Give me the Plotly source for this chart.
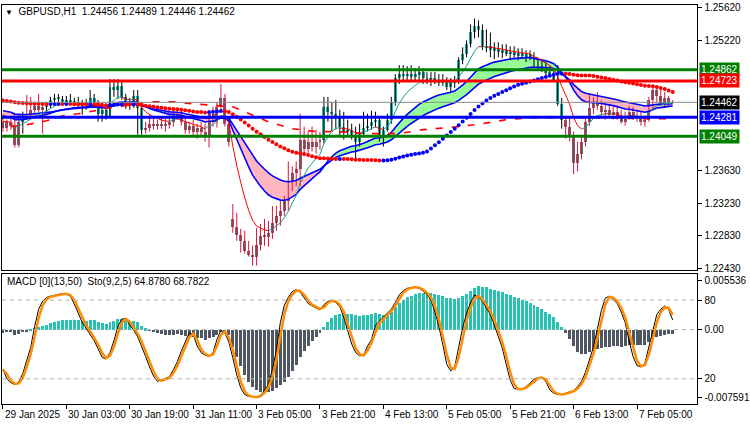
import plotly.graph_objects as go

# ---------------- data (GBPUSD H1) ----------------
tick_bars = [0, 16, 32, 48, 64, 80, 96, 112, 128, 144, 160]
tick_labels = ["29 Jan 2025", "30 Jan 03:00", "30 Jan 19:00", "31 Jan 11:00", "3 Feb 05:00",
               "3 Feb 21:00", "4 Feb 13:00", "5 Feb 05:00", "5 Feb 21:00", "6 Feb 13:00", "7 Feb 05:00"]

bar_open = [
 1.24225, 1.24153, 1.24225, 1.24177, 1.23946, 1.24225, 1.24298, 1.24322, 1.24371, 1.24419,
 1.24371, 1.24407, 1.24444, 1.24492, 1.24517, 1.24504, 1.24468, 1.24492, 1.24468, 1.24456,
 1.24432, 1.24419, 1.24468, 1.24517, 1.24468, 1.24322, 1.24371, 1.24298, 1.24650, 1.24614,
 1.24662, 1.24529, 1.24419, 1.24468, 1.24541, 1.24395, 1.24128, 1.24153, 1.24201, 1.24177,
 1.24201, 1.24177, 1.24189, 1.24225, 1.24322, 1.24286, 1.24225, 1.24128, 1.24177, 1.24104,
 1.24153, 1.24104, 1.24043, 1.24322, 1.24225, 1.24407, 1.24517, 1.24201, 1.23037, 1.22940,
 1.22843, 1.22770, 1.22649, 1.22600, 1.22576, 1.22721, 1.22831, 1.22818, 1.22867, 1.22988,
 1.23073, 1.23134, 1.23255, 1.23401, 1.23595, 1.23643, 1.24007, 1.23886, 1.23983, 1.23922,
 1.23983, 1.24007, 1.24407, 1.24347, 1.24322, 1.24286, 1.24165, 1.24104, 1.24128, 1.24043,
 1.23983, 1.24080, 1.24153, 1.24177, 1.24225, 1.24250, 1.24043, 1.24128, 1.24250, 1.24468,
 1.24759, 1.24808, 1.24783, 1.24808, 1.24771, 1.24808, 1.24832, 1.24759, 1.24735, 1.24759,
 1.24711, 1.24735, 1.24711, 1.24650, 1.24711, 1.24735, 1.24977, 1.25050, 1.25172, 1.25317,
 1.25390, 1.25341, 1.25135, 1.25147, 1.25099, 1.25123, 1.25075, 1.25099, 1.25050, 1.25075,
 1.25038, 1.25062, 1.25026, 1.25050, 1.25014, 1.24905, 1.24953, 1.24856, 1.24832, 1.24808,
 1.24735, 1.24444, 1.24250, 1.24165, 1.24043, 1.23716, 1.23837, 1.23983, 1.24225, 1.24395,
 1.24468, 1.24419, 1.24347, 1.24371, 1.24310, 1.24347, 1.24286, 1.24225, 1.24262, 1.24347,
 1.24274, 1.24298, 1.24225, 1.24250, 1.24492, 1.24614, 1.24541, 1.24444, 1.24517, 1.24456]

bar_high = [
 1.24322, 1.24250, 1.24274, 1.24298, 1.24322, 1.24347, 1.24553, 1.24529, 1.24468, 1.24565,
 1.24444, 1.24468, 1.24529, 1.24565, 1.24565, 1.24541, 1.24541, 1.24565, 1.24517, 1.24529,
 1.24492, 1.24504, 1.24614, 1.24565, 1.24492, 1.24407, 1.24419, 1.24747, 1.24747, 1.24747,
 1.24711, 1.24565, 1.24517, 1.24614, 1.24614, 1.24419, 1.24225, 1.24310, 1.24298, 1.24250,
 1.24274, 1.24262, 1.24322, 1.24347, 1.24395, 1.24371, 1.24274, 1.24225, 1.24250, 1.24201,
 1.24225, 1.24201, 1.24371, 1.24407, 1.24468, 1.24686, 1.24565, 1.24250, 1.23219, 1.23110,
 1.22915, 1.22891, 1.22770, 1.22709, 1.22928, 1.22976, 1.23037, 1.23012, 1.23195, 1.23195,
 1.23255, 1.23316, 1.23740, 1.23680, 1.23740, 1.24322, 1.24165, 1.24104, 1.24165, 1.24128,
 1.24104, 1.24529, 1.24529, 1.24468, 1.24492, 1.24371, 1.24347, 1.24250, 1.24201, 1.24165,
 1.24201, 1.24347, 1.24322, 1.24359, 1.24347, 1.24286, 1.24165, 1.24322, 1.24529, 1.24808,
 1.24917, 1.24917, 1.24905, 1.24917, 1.24880, 1.24905, 1.24880, 1.24832, 1.24832, 1.24832,
 1.24808, 1.24808, 1.24771, 1.24759, 1.24783, 1.25014, 1.25135, 1.25220, 1.25414, 1.25487,
 1.25463, 1.25414, 1.25353, 1.25317, 1.25196, 1.25196, 1.25172, 1.25172, 1.25147, 1.25147,
 1.25123, 1.25123, 1.25099, 1.25099, 1.25075, 1.25002, 1.24977, 1.24953, 1.24905, 1.24880,
 1.24917, 1.24517, 1.24298, 1.24286, 1.24104, 1.23983, 1.24043, 1.24286, 1.24553, 1.24529,
 1.24589, 1.24492, 1.24468, 1.24444, 1.24419, 1.24419, 1.24371, 1.24347, 1.24419, 1.24407,
 1.24371, 1.24347, 1.24298, 1.24529, 1.24674, 1.24662, 1.24626, 1.24589, 1.24541, 1.24489]

bar_low = [
 1.24104, 1.24104, 1.24128, 1.23910, 1.23910, 1.24080, 1.24250, 1.24250, 1.24322, 1.24347,
 1.24080, 1.24347, 1.24395, 1.24444, 1.24468, 1.24432, 1.24419, 1.24444, 1.24419, 1.24407,
 1.24310, 1.24371, 1.24432, 1.24432, 1.24225, 1.24225, 1.24250, 1.24274, 1.24529, 1.24504,
 1.24492, 1.24383, 1.24371, 1.24395, 1.24068, 1.24068, 1.24080, 1.24104, 1.24128, 1.24128,
 1.24140, 1.24104, 1.24140, 1.24165, 1.24250, 1.24177, 1.24080, 1.24080, 1.24043, 1.24019,
 1.24056, 1.23983, 1.23910, 1.24165, 1.24153, 1.24347, 1.24165, 1.23922, 1.22867, 1.22770,
 1.22624, 1.22612, 1.22576, 1.22467, 1.22467, 1.22649, 1.22709, 1.22697, 1.22794, 1.22891,
 1.22952, 1.23073, 1.23134, 1.23377, 1.23437, 1.23437, 1.23801, 1.23801, 1.23862, 1.23837,
 1.23886, 1.23959, 1.24225, 1.24104, 1.24128, 1.24043, 1.24007, 1.24043, 1.24007, 1.23777,
 1.23922, 1.24031, 1.24104, 1.24128, 1.24153, 1.23983, 1.23922, 1.24104, 1.24201, 1.24419,
 1.24686, 1.24711, 1.24711, 1.24723, 1.24711, 1.24735, 1.24686, 1.24686, 1.24662, 1.24686,
 1.24662, 1.24662, 1.24614, 1.24589, 1.24638, 1.24686, 1.24929, 1.25014, 1.25135, 1.25244,
 1.25256, 1.25099, 1.25075, 1.25014, 1.24990, 1.25014, 1.25002, 1.25026, 1.24977, 1.25002,
 1.24977, 1.24990, 1.24953, 1.24977, 1.24880, 1.24856, 1.24832, 1.24783, 1.24771, 1.24711,
 1.24419, 1.24140, 1.24019, 1.23983, 1.23583, 1.23619, 1.23765, 1.23922, 1.24177, 1.24322,
 1.24371, 1.24298, 1.24250, 1.24274, 1.24250, 1.24250, 1.24201, 1.24177, 1.24250, 1.24250,
 1.24225, 1.24177, 1.24165, 1.24225, 1.24371, 1.24468, 1.24419, 1.24395, 1.24419, 1.24446]

bar_close = [
 1.24153, 1.24225, 1.24177, 1.23946, 1.24225, 1.24298, 1.24322, 1.24371, 1.24419, 1.24371,
 1.24407, 1.24444, 1.24492, 1.24517, 1.24504, 1.24468, 1.24492, 1.24468, 1.24456, 1.24432,
 1.24419, 1.24468, 1.24517, 1.24468, 1.24322, 1.24371, 1.24298, 1.24650, 1.24614, 1.24662,
 1.24529, 1.24419, 1.24468, 1.24541, 1.24395, 1.24128, 1.24153, 1.24201, 1.24177, 1.24201,
 1.24177, 1.24189, 1.24225, 1.24322, 1.24286, 1.24225, 1.24128, 1.24177, 1.24104, 1.24153,
 1.24104, 1.24043, 1.24322, 1.24225, 1.24407, 1.24517, 1.24201, 1.23983, 1.22940, 1.22843,
 1.22770, 1.22649, 1.22600, 1.22576, 1.22721, 1.22831, 1.22818, 1.22867, 1.22988, 1.23073,
 1.23134, 1.23255, 1.23401, 1.23595, 1.23643, 1.24007, 1.23886, 1.23983, 1.23922, 1.23983,
 1.24007, 1.24407, 1.24347, 1.24322, 1.24286, 1.24165, 1.24104, 1.24128, 1.24043, 1.23983,
 1.24080, 1.24153, 1.24177, 1.24225, 1.24250, 1.24043, 1.24128, 1.24250, 1.24468, 1.24759,
 1.24808, 1.24783, 1.24808, 1.24771, 1.24808, 1.24832, 1.24759, 1.24735, 1.24759, 1.24711,
 1.24735, 1.24711, 1.24650, 1.24711, 1.24735, 1.24977, 1.25050, 1.25172, 1.25317, 1.25390,
 1.25341, 1.25135, 1.25147, 1.25099, 1.25123, 1.25075, 1.25099, 1.25050, 1.25075, 1.25038,
 1.25062, 1.25026, 1.25050, 1.25014, 1.24905, 1.24953, 1.24856, 1.24832, 1.24808, 1.24735,
 1.24444, 1.24250, 1.24165, 1.24043, 1.23716, 1.23837, 1.23983, 1.24225, 1.24395, 1.24468,
 1.24419, 1.24347, 1.24371, 1.24310, 1.24347, 1.24286, 1.24225, 1.24262, 1.24347, 1.24274,
 1.24298, 1.24225, 1.24250, 1.24492, 1.24614, 1.24541, 1.24444, 1.24517, 1.24456, 1.24462]

# bar ranges drawn in the "bullish" candle colour (trend-coloured bars)
bull_regimes = [(5, 5), (11, 35), (81, 141)]

# Stochastic (9,2,5) main line
stoch_main = [
 27, 20, 17, 15.5, 17.5, 24, 34, 44, 60, 73,
 79, 82, 83, 83.5, 84, 85, 84.5, 83, 77, 70,
 63, 58.5, 54, 49, 43, 36.5, 35, 40, 49, 60,
 65.5, 66, 61, 57, 52, 45, 37, 29, 22, 18,
 19, 20, 21.5, 27, 33, 41, 48, 55, 54, 45,
 40, 38, 37, 40, 50, 57, 55, 48, 36, 23,
 13, 8, 6.5, 6, 6, 7.5, 11, 16, 27, 42,
 63, 76, 82, 86.5, 88, 86, 82, 77.5, 75.5, 74,
 72.5, 76.5, 79, 80, 78, 75, 67, 56.5, 46.5, 40,
 37.5, 38, 45, 50, 61, 64, 67, 70, 73, 78,
 84, 87, 89, 89.5, 90, 89, 87, 84, 80, 71,
 60, 46, 31, 26, 29, 44, 59, 70, 78, 84,
 82, 79, 74, 69, 61, 52, 43.5, 31, 19, 12.5,
 12, 12, 14, 17, 19.5, 21, 21, 18, 11.5, 9,
 8, 8, 9, 10, 11, 14, 18, 25, 34, 44,
 58, 72, 81.5, 83, 80.5, 77.5, 71, 63, 49, 37,
 30, 29, 32, 45, 57, 69, 73, 75.5, 72.69, 64.878]

# higher-timeframe average (red dashed), read at these bars
htf_bars = [2, 6, 10, 12, 16, 19, 27, 37, 43, 48, 58, 61, 67, 73, 79, 84, 92, 100,
            106, 109, 115, 121, 127, 133, 142, 152, 162, 169]
htf_values = [1.24165, 1.24189, 1.24225, 1.24250, 1.24310, 1.24322, 1.24395, 1.24468, 1.24468,
              1.24444, 1.24407, 1.24347, 1.24225, 1.24140, 1.24104, 1.24104, 1.24080, 1.24080,
              1.24128, 1.24140, 1.24165, 1.24201, 1.24250, 1.24274, 1.24274, 1.24274, 1.24262,
              1.24262]

# horizontal levels
level_prices = [1.24862, 1.24723, 1.24281, 1.24049]
level_colors = ["#008000", "#ff0000", "#0000ff", "#008000"]
last_price = 1.24462

# indicator settings and starting values (read at left edge)
fast_period, fast_seed = 8, 1.24250
rib_fast_period, rib_fast_seed = 21, 1.24310
rib_slow_period, rib_slow_seed = 34, 1.24371
slow_period, slow_seed = 50, 1.24492
macd_fast, macd_fast_seed = 13, 1.24200
macd_slow, macd_slow_seed = 50, 1.24225

# ---------------- computations ----------------
n = len(bar_close)
idx = list(range(n))


def ema(values, period, seed):
    a = 2.0 / (period + 1)
    out, prev = [], seed
    for v in values:
        prev = prev + a * (v - prev)
        out.append(prev)
    return out


def sma(values, period, seed):
    padded = [seed] * (period - 1) + list(values)
    return [sum(padded[i:i + period]) / period for i in range(len(values))]


fast = ema(bar_close, fast_period, fast_seed)
rib_f = ema(bar_close, rib_fast_period, rib_fast_seed)
rib_s = ema(bar_close, rib_slow_period, rib_slow_seed)
slow = sma(bar_close, slow_period, slow_seed)
m_f = ema(bar_close, macd_fast, macd_fast_seed)
m_s = ema(bar_close, macd_slow, macd_slow_seed)
macd_hist = [a - b for a, b in zip(m_f, m_s)]
stoch_signal = [stoch_main[0]] + [(stoch_main[i] + stoch_main[i - 1]) / 2 for i in range(1, n)]

is_bull = [False] * n
for s, e in bull_regimes:
    for i in range(s, e + 1):
        is_bull[i] = True

FONT = "Liberation Sans, Arial, sans-serif"
TEAL_BODY = "#22b3a5"
GRAY_BODY = "#6b6b6b"
fig = go.Figure()

# ribbon fills
seg_start = 0
for i in range(1, n + 1):
    if i == n or (rib_f[i] > rib_s[i]) != (rib_f[seg_start] > rib_s[seg_start]):
        e = min(i, n - 1)
        xs = idx[seg_start:e + 1]
        ys = rib_f[seg_start:e + 1] + rib_s[seg_start:e + 1][::-1]
        col = "#98fb98" if rib_f[seg_start] > rib_s[seg_start] else "#ffb6c1"
        fig.add_trace(go.Scatter(x=xs + xs[::-1], y=ys, fill="toself", fillcolor=col,
                                 mode="lines", line=dict(width=0), hoverinfo="skip",
                                 showlegend=False))
        seg_start = i

# candle wicks
for flag, col in [(True, "#000000"), (False, "#dc143c")]:
    wx, wy = [], []
    for i in idx:
        if is_bull[i] == flag:
            wx += [i, i, None]
            wy += [bar_low[i], bar_high[i], None]
    fig.add_trace(go.Scatter(x=wx, y=wy, mode="lines", line=dict(color=col, width=1),
                             hoverinfo="skip", showlegend=False))

# candle bodies
for flag, col in [(True, TEAL_BODY), (False, GRAY_BODY)]:
    bx = [i for i in idx if is_bull[i] == flag]
    fig.add_trace(go.Bar(x=bx,
                         base=[min(bar_open[i], bar_close[i]) for i in bx],
                         y=[max(abs(bar_close[i] - bar_open[i]), 0.00003) for i in bx],
                         width=0.75, marker=dict(color=col, line=dict(width=0)),
                         hoverinfo="skip", showlegend=False))

# ribbon lines
for arr in (rib_f, rib_s):
    fig.add_trace(go.Scatter(x=idx, y=arr, mode="lines", line=dict(color="#0000ff", width=1.6),
                             hoverinfo="skip", showlegend=False))

# higher timeframe dashed average
fig.add_trace(go.Scatter(x=htf_bars, y=htf_values, mode="lines",
                         line=dict(color="#ff0000", width=1.6, dash="7px,9px"),
                         hoverinfo="skip", showlegend=False))

# fast average, coloured by slope
ux, uy, dx, dy = [], [], [], []
for i in range(1, n):
    if fast[i] >= fast[i - 1]:
        ux += [i - 1, i, None]; uy += [fast[i - 1], fast[i], None]
    else:
        dx += [i - 1, i, None]; dy += [fast[i - 1], fast[i], None]
fig.add_trace(go.Scatter(x=ux, y=uy, mode="lines", line=dict(color="#139c8f", width=1),
                         hoverinfo="skip", showlegend=False))
fig.add_trace(go.Scatter(x=dx, y=dy, mode="lines", line=dict(color="#ff0000", width=1),
                         hoverinfo="skip", showlegend=False))

# slow dotted average, coloured by slope
dot_cols = ["#ff0000"] + ["#0000ff" if slow[i] >= slow[i - 1] else "#ff0000" for i in range(1, n)]
fig.add_trace(go.Scatter(x=idx, y=slow, mode="markers",
                         marker=dict(color=dot_cols, size=4, line=dict(width=0)),
                         hoverinfo="skip", showlegend=False))

# ---------------- sub window ----------------
fig.add_trace(go.Bar(x=idx, y=macd_hist, xaxis="x2", yaxis="y2", width=0.75,
                     marker=dict(color=["#26c2b4" if v >= 0 else "#4f5762" for v in macd_hist],
                                 line=dict(width=0)),
                     hoverinfo="skip", showlegend=False))
fig.add_trace(go.Scatter(x=idx, y=stoch_main, xaxis="x2", yaxis="y3", mode="lines",
                         line=dict(color="#000000", width=1), hoverinfo="skip", showlegend=False))
fig.add_trace(go.Scatter(x=idx, y=stoch_signal, xaxis="x2", yaxis="y3", mode="lines",
                         line=dict(color="#ff8c00", width=2.5), hoverinfo="skip", showlegend=False))

shapes = []
for p, c in zip(level_prices, level_colors):
    shapes.append(dict(type="line", xref="x domain", x0=0, x1=1, yref="y", y0=p, y1=p,
                       line=dict(color=c, width=3), layer="above"))
shapes.append(dict(type="line", xref="x domain", x0=0, x1=1, yref="y", y0=last_price, y1=last_price,
                   line=dict(color="#8c8c8c", width=1), layer="above"))
for yr, v in [("y3", 80), ("y3", 20), ("y2", 0)]:
    shapes.append(dict(type="line", xref="x2 domain", x0=0, x1=1, yref=yr, y0=v, y1=v,
                       line=dict(color="#b4b4b4", width=1, dash="4px,4px"), layer="above"))

ann = []
for p, c in zip(level_prices + [last_price], level_colors + ["#000000"]):
    ann.append(dict(xref="paper", x=706 / 750, xanchor="left", yref="y", y=p,
                    text=f"{p:.5f}", showarrow=False, bgcolor=c, borderpad=1,
                    font=dict(color="white", size=10, family=FONT)))
for b, t in zip(tick_bars, tick_labels):
    ann.append(dict(xref="x2", x=b - 0.1, xanchor="left", yref="paper", y=(430 - 418) / 430,
                    yanchor="middle", text=t, showarrow=False,
                    font=dict(color="black", size=10, family=FONT)))
ann.append(dict(xref="paper", x=3 / 750, xanchor="left", yref="paper", y=1 - 9 / 430,
                yanchor="middle", showarrow=False,
                text="<span style='font-size:8px'>▼</span>\u00a0\u00a0GBPUSD,H1\u00a0\u00a01.24456 1.24489 1.24446 1.24462",
                font=dict(color="black", size=10, family=FONT)))
ann.append(dict(xref="paper", x=5 / 750, xanchor="left", yref="paper", y=1 - 283 / 430,
                yanchor="middle", showarrow=False,
                text="MACD [0](13,50)\u00a0\u00a0Sto(9,2,5) 64.8780 68.7822",
                font=dict(color="black", size=10, family=FONT)))

xdom = [2 / 750, 704 / 750]
axis_common = dict(showgrid=False, zeroline=False, showline=True, mirror=True,
                   linecolor="black", linewidth=1)
fig.update_layout(
    width=750, height=430, margin=dict(l=0, r=0, t=0, b=0),
    paper_bgcolor="white", plot_bgcolor="white", barmode="overlay", bargap=0,
    showlegend=False, font=dict(family=FONT, size=10, color="black"),
    shapes=shapes, annotations=ann,
    xaxis=dict(domain=xdom, range=[-0.25, 175.25], anchor="y", showticklabels=False,
               ticks="", **axis_common),
    xaxis2=dict(domain=xdom, matches="x", anchor="y2", tickvals=tick_bars, ticks="outside",
                ticklen=4, tickcolor="black", showticklabels=False, **axis_common),
    yaxis=dict(domain=[1 - 271 / 430, 1 - 2 / 430], range=[1.224174, 1.256525], side="right",
               anchor="x", tickvals=[1.2562, 1.2522, 1.2363, 1.2323, 1.2283, 1.2243],
               ticktext=["1.25620", "1.25220", "1.23630", "1.23230", "1.22830", "1.22430"],
               ticks="outside", ticklen=4, tickcolor="black", ticklabeloverflow="allow",
               tickfont=dict(size=10, family=FONT, color="black"), **axis_common),
    yaxis2=dict(domain=[22 / 430, 155 / 430], range=[-0.008415, 0.006311], side="right",
                anchor="x2", tickvals=[0.005536, 0, -0.007591],
                ticktext=["0.005536", "0.00", "-0.007591"], ticks="outside", ticklen=4,
                tickcolor="black", tickfont=dict(size=10, family=FONT, color="black"),
                **axis_common),
    yaxis3=dict(overlaying="y2", range=[0.5, 100.25], side="right", anchor="x2",
                tickvals=[80, 20], ticktext=["80", "20"], ticks="outside", ticklen=4,
                tickcolor="black", tickfont=dict(size=10, family=FONT, color="black"),
                showgrid=False, zeroline=False, showline=False),
)

fig.write_html("out.html", config={"displayModeBar": False})
